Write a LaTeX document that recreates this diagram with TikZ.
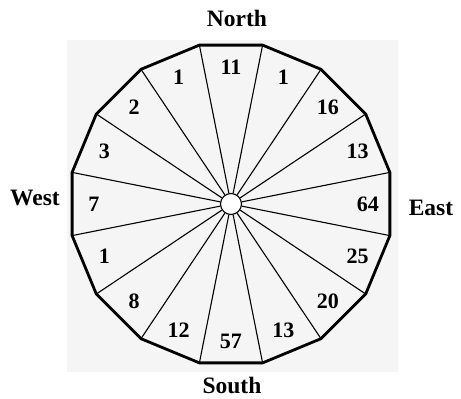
\documentclass[tikz,border=0pt]{standalone}
\usepackage{fontspec}
\setmainfont{Liberation Serif}
\usetikzlibrary{positioning,calc}
\tikzset{
  rim/.style={line width=2.8pt,line join=miter},
  spoke/.style={line width=1.1pt},
  hub/.style={circle,draw,fill=white,minimum size=21pt,inner sep=0pt,line width=1.1pt},
  cnt/.style={font=\fontsize{22}{22}\selectfont\bfseries,inner sep=0pt},
  dirlbl/.style={font=\fontsize{23.5}{23.5}\selectfont\bfseries,inner sep=0pt},
  shade/.style={fill=black!4},
}
\begin{document}
\begin{tikzpicture}[x=1pt,y=1pt]
  \useasboundingbox (-231,-195) rectangle (230,204);
  \fill[shade] (-164,-168) rectangle (167,164);
  % corners of the 16-gon
  \foreach \k in {0,...,15}
    \coordinate (v\k) at ({11.25+22.5*\k}:162);
  \node[hub] (hub) at (0,0) {};
  \foreach \k in {0,...,15}
    \draw[spoke] (hub) -- (v\k);
  \draw[rim] (v0) \foreach \k in {1,...,15}{ -- (v\k)} -- cycle;
  % counts per sector, from East going round
  \foreach \n [count=\i from 0] in {64,13,16,1,11,1,2,3,7,1,8,12,57,13,20,25}
    \node[cnt] (c\i) at ({22.5*\i}:137) {\n};
  \node[dirlbl] (north) at (6,186) {North};
  \node[dirlbl] (south) at (1,-181) {South};
  \node[dirlbl] (west) at (-196,6) {West};
  \node[dirlbl] (east) at (200,-4) {East};
\end{tikzpicture}
\end{document}
